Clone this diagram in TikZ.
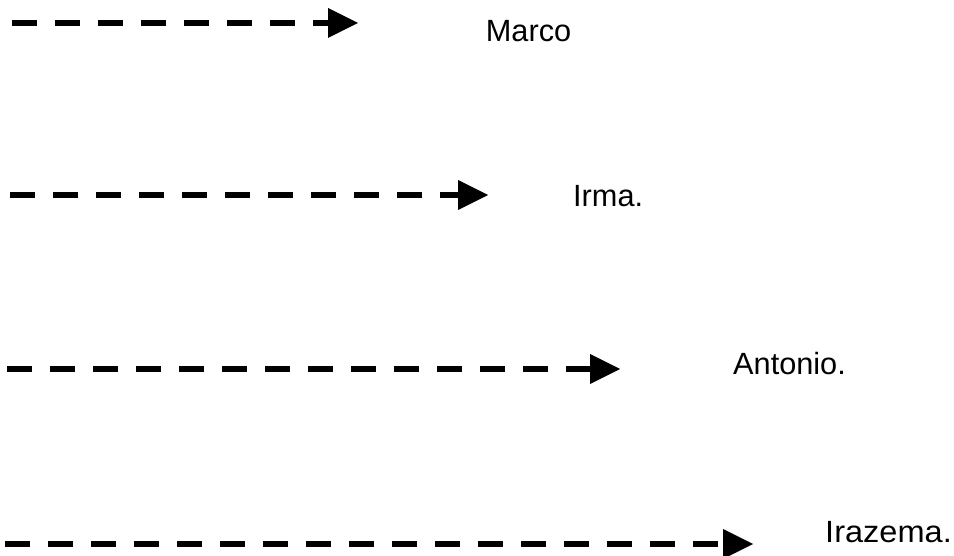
\documentclass[tikz,border=0pt]{standalone}
\usepackage{fontspec}
\setmainfont{Liberation Sans}
\usetikzlibrary{arrows.meta}
\begin{document}
\begin{tikzpicture}[x=1pt,y=1pt,
  dasharrow/.style={line width=6pt, dash pattern=on 25pt off 18pt,
    -{Triangle[length=30pt,width=30pt,line width=0pt]}},
  lbl/.style={inner sep=0pt, anchor=base west, font=\fontsize{30.7}{36}\selectfont}]
\useasboundingbox (0,0) rectangle (954,-556);
\coordinate (s1) at (12,-23);  \coordinate (e1) at (358,-23);
\coordinate (s2) at (10,-195); \coordinate (e2) at (488,-195);
\coordinate (s3) at (7,-369);  \coordinate (e3) at (620,-369);
\coordinate (s4) at (5,-544);  \coordinate (e4) at (753,-544);
\draw[dasharrow] (s1) -- (e1);
\draw[dasharrow] (s2) -- (e2);
\draw[dasharrow] (s3) -- (e3);
\draw[dasharrow] (s4) -- (e4);
\node[lbl] (marco) at (485.7,-42) {Marco};
\node[lbl] (irma) at (573,-207) {Irma.};
\node[lbl] (antonio) at (733,-374) {Antonio.};
\node[lbl, xscale=1.06] (irazema) at (825,-542) {Irazema.};
\end{tikzpicture}
\end{document}
